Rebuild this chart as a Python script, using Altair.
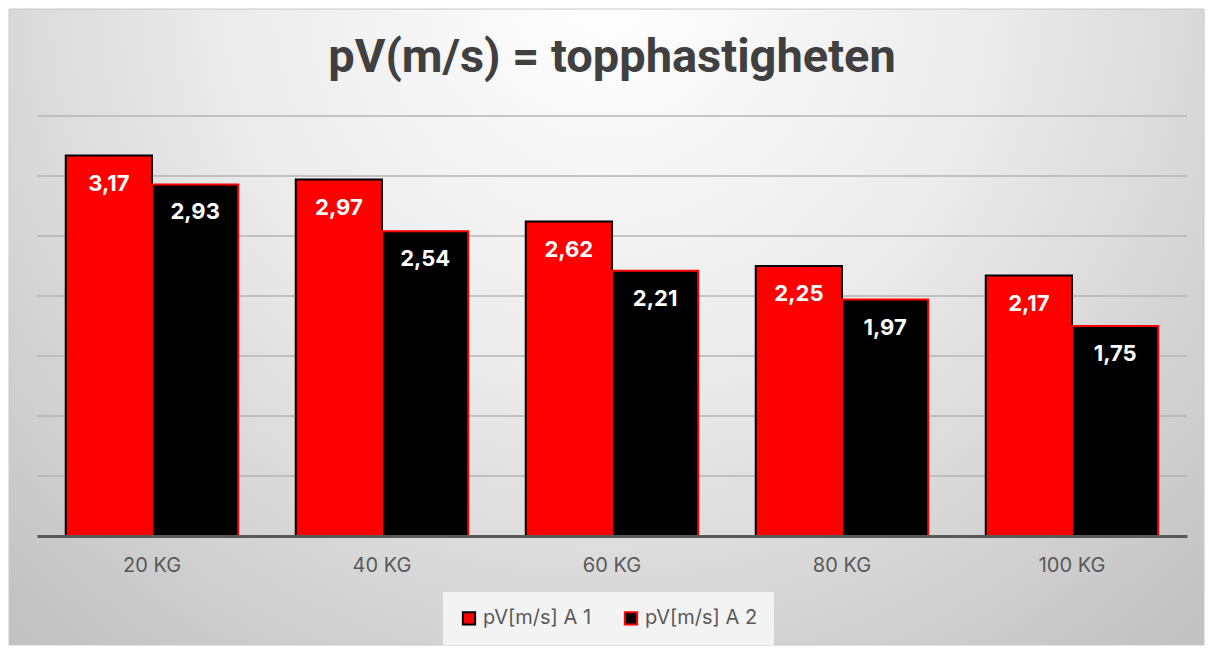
import altair as alt
import pandas as pd

categories = ["20 KG", "40 KG", "60 KG", "80 KG", "100 KG"]
series_names = ["pV[m/s] A 1", "pV[m/s] A 2"]
series_a1 = [3.17, 2.97, 2.62, 2.25, 2.17]
series_a2 = [2.93, 2.54, 2.21, 1.97, 1.75]
grid_values = [0.5, 1.0, 1.5, 2.0, 2.5, 3.0, 3.5]

rows = []
for c, a, b in zip(categories, series_a1, series_a2):
    rows.append(dict(cat=c, series=series_names[0], value=a, label=f"{a:.2f}".replace(".", ",")))
    rows.append(dict(cat=c, series=series_names[1], value=b, label=f"{b:.2f}".replace(".", ",")))
df = pd.DataFrame(rows)
grid_df = pd.DataFrame({"g": grid_values})

W, H = 1150, 420
PL, PT, PR, PB = 29, 108, 18, 110
FONT = "Inter"
GREY = "#595959"

gradient = {
    "gradient": "radial",
    "x1": 0.5, "y1": 0.22, "r1": 0,
    "x2": 0.5, "y2": 0.22, "r2": 0.72,
    "stops": [
        {"offset": 0, "color": "#ffffff"},
        {"offset": 0.45, "color": "#ebebeb"},
        {"offset": 1, "color": "#c2c2c2"},
    ],
}

bg = alt.Chart(pd.DataFrame({"d": [0]})).mark_rect(
    fill=gradient, stroke="#c8c8c8", strokeWidth=1
).encode(
    x=alt.value(-PL + 1), x2=alt.value(W + PR - 1),
    y=alt.value(-PT + 1), y2=alt.value(H + PB - 1),
)

y_scale = alt.Scale(domain=[0, 3.5], nice=False)

grid = alt.Chart(grid_df).mark_rule(color="#b5b5b5", strokeWidth=1.3).encode(
    y=alt.Y("g:Q", scale=y_scale, axis=None),
    x=alt.value(0), x2=alt.value(W),
)

x_enc = alt.X(
    "cat:N", sort=categories,
    scale=alt.Scale(paddingInner=0.25, paddingOuter=0.125),
    axis=alt.Axis(
        title=None, labelAngle=0, ticks=False, domainColor=GREY, domainWidth=3,
        labelFont=FONT, labelFontSize=20, labelColor=GREY, labelPadding=19, zindex=1,
    ),
)
y_enc = alt.Y("value:Q", scale=y_scale, axis=None)
leg = alt.Legend(
    title=None, orient="none", legendX=406, legendY=476, direction="horizontal",
    symbolType="square", symbolSize=150, symbolStrokeWidth=2,
    labelFont=FONT, labelFontSize=20, labelColor=GREY, columnPadding=28,
    fillColor="#f3f3f3", padding=16,
)

bars = alt.Chart(df).mark_bar(strokeWidth=2).encode(
    x=x_enc,
    xOffset=alt.XOffset("series:N", sort=series_names),
    y=y_enc,
    fill=alt.Fill("series:N", scale=alt.Scale(domain=series_names, range=["#ff0000", "#000000"]), legend=leg),
    stroke=alt.Stroke("series:N", scale=alt.Scale(domain=series_names, range=["#000000", "#ff0000"]), legend=leg),
)

labels = alt.Chart(df).mark_text(
    color="white", font=FONT, fontSize=22, fontWeight="bold", baseline="middle", dy=28
).encode(
    x=alt.X("cat:N", sort=categories),
    xOffset=alt.XOffset("series:N", sort=series_names),
    y="value:Q",
    text="label:N",
)

chart = alt.layer(bg, grid, bars, labels).properties(
    width=W, height=H,
    autosize=alt.AutoSizeParams(type="none"),
    padding={"left": PL, "top": PT, "right": PR, "bottom": PB},
    title=alt.TitleParams(
        "pV(m/s) = topphastigheten", font="Roboto", fontSize=47, fontWeight="bold",
        color="#404040", anchor="middle", offset=0, dy=73,
    ),
).configure_view(stroke=None)

chart.save("out.html", embed_options={"renderer": "svg", "actions": False})
